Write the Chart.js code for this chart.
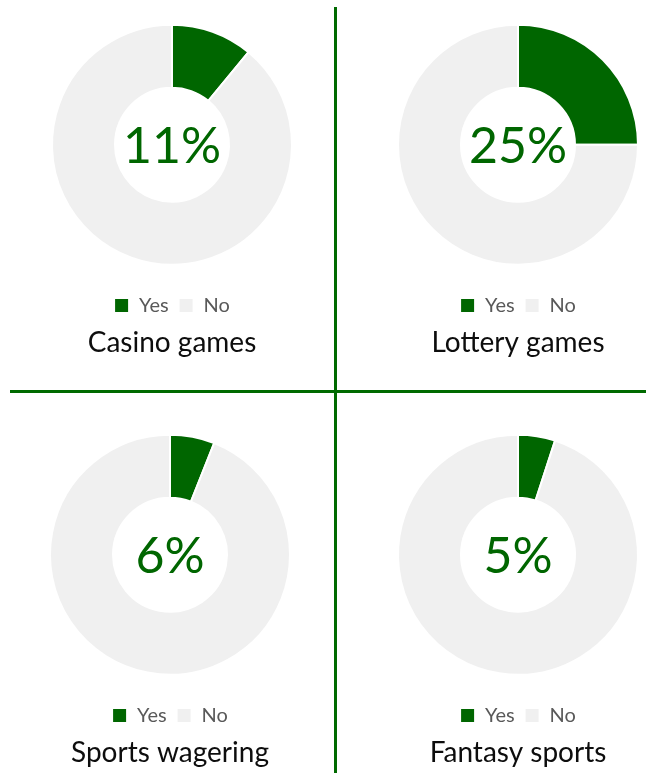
<!DOCTYPE html>
<html lang="en">
<head>
    <meta charset="UTF-8">
    <title>Gambling participation</title>
    <script src="https://cdn.jsdelivr.net/npm/chart.js@4.4.0/dist/chart.umd.min.js"></script>
    <style>
        html, body { margin: 0; padding: 0; background: #fff; overflow: hidden; }
        body { width: 646px; height: 773px; position: relative; }
        .cell { position: absolute; width: 280px; height: 390px; }
        .vline { position: absolute; left: 334px; top: 7px; width: 3px; height: 766px; background: #006a00; }
        .hline { position: absolute; left: 10px; top: 390px; width: 636px; height: 3px; background: #006a00; }
    </style>
</head>
<body>
    <div class="vline"></div>
    <div class="hline"></div>
    <div class="cell" style="left:32px; top:0px;"><canvas id="c0"></canvas></div>
    <div class="cell" style="left:378px; top:0px;"><canvas id="c1"></canvas></div>
    <div class="cell" style="left:30px; top:410px;"><canvas id="c2"></canvas></div>
    <div class="cell" style="left:378px; top:410px;"><canvas id="c3"></canvas></div>

    <script>
        // data
        const titles = ['Casino games', 'Lottery games', 'Sports wagering', 'Fantasy sports'];
        const labels = ['Yes', 'No'];
        const yesValues = [11, 25, 6, 5];
        const noValues = [89, 75, 94, 95];

        const GREEN = '#006600';
        const GREY = '#f0f0f0';

        Chart.defaults.font.family = 'Lato, "Open Sans", sans-serif';

        // percentage in the hole
        const centerText = {
            id: 'centerText',
            afterDraw(chart, args, opts) {
                const { ctx, chartArea } = chart;
                const cx = (chartArea.left + chartArea.right) / 2;
                const cy = (chartArea.top + chartArea.bottom) / 2;
                const fs = 50;
                ctx.save();
                ctx.font = fs + 'px Lato, "Open Sans", sans-serif';
                ctx.fillStyle = GREEN;
                ctx.textAlign = 'center';
                ctx.textBaseline = 'alphabetic';
                ctx.fillText(opts.text, cx, cy + fs * 0.36);
                ctx.restore();
            }
        };

        titles.forEach((title, i) => {
            new Chart(document.getElementById('c' + i), {
                type: 'doughnut',
                data: {
                    labels: labels,
                    datasets: [{
                        data: [yesValues[i], noValues[i]],
                        backgroundColor: [GREEN, GREY],
                        borderColor: '#ffffff',
                        borderWidth: 2
                    }]
                },
                options: {
                    responsive: true,
                    maintainAspectRatio: false,
                    animation: false,
                    radius: 120,
                    cutout: 66,
                    layout: { padding: { top: 4, bottom: 30 } },
                    plugins: {
                        tooltip: { enabled: false },
                        centerText: { text: yesValues[i] + '%' },
                        legend: {
                            position: 'bottom',
                            labels: {
                                boxWidth: 15,
                                boxHeight: 15,
                                padding: 10,
                                color: '#595959',
                                font: { size: 20 }
                            }
                        },
                        title: {
                            display: true,
                            position: 'bottom',
                            text: title,
                            color: '#0d0d0d',
                            font: { size: 28, weight: 'normal' },
                            padding: { top: 1, bottom: 0 }
                        }
                    }
                },
                plugins: [centerText]
            });
        });
    </script>
</body>
</html>
